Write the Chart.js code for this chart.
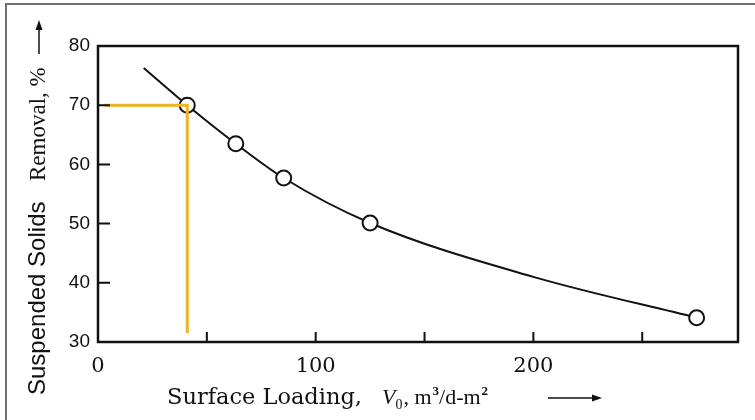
<!DOCTYPE html>
<html>
<head>
<meta charset="utf-8">
<script src="https://cdn.jsdelivr.net/npm/chart.js@4.4.1/dist/chart.umd.min.js"></script>
<style>
  html, body { margin: 0; padding: 0; background: #fff; }
  #wrap { width: 755px; height: 420px; position: relative; }
</style>
</head>
<body>
<div id="wrap"><canvas id="removalChart" width="755" height="420"></canvas></div>
<script>
// values
const curveLoading = [21, 41, 63.3, 85.3, 125, 200, 275];
const curveRemoval = [76.3, 70, 63.5, 57.7, 50.1, 41.0, 34.1];
const pointLoading = [41, 63.3, 85.3, 125, 275];
const pointRemoval = [70, 63.5, 57.7, 50.1, 34.1];
// orange read-off guide (design loading -> 70 %)
const guideLoading = [3, 41, 41];
const guideRemoval = [70, 70, 31.5];

const xLabels = [0, 100, 200];
const xTickMarks = [50, 100, 150, 200, 250];
const yTickMarks = [40, 50, 60, 70];

const toXY = (xs, ys) => xs.map((x, i) => ({ x: x, y: ys[i] }));

// simple arrow: line from (x1,y1) to (x2,y2) with a filled head at the end
function arrow(ctx, x1, y1, x2, y2) {
    const ang = Math.atan2(y2 - y1, x2 - x1);
    ctx.beginPath();
    ctx.moveTo(x1, y1);
    ctx.lineTo(x2 - 6 * Math.cos(ang), y2 - 6 * Math.sin(ang));
    ctx.stroke();
    ctx.beginPath();
    ctx.moveTo(x2, y2);
    ctx.lineTo(x2 - 10 * Math.cos(ang) + 3.5 * Math.sin(ang), y2 - 10 * Math.sin(ang) - 3.5 * Math.cos(ang));
    ctx.lineTo(x2 - 10 * Math.cos(ang) - 3.5 * Math.sin(ang), y2 - 10 * Math.sin(ang) + 3.5 * Math.cos(ang));
    ctx.closePath();
    ctx.fill();
}

// frame, plot box, inner tick marks and the two axis titles
const paperPlugin = {
    id: 'paper',
    beforeDraw(chart) {
        const ctx = chart.ctx;
        ctx.save();
        ctx.fillStyle = '#fff';
        ctx.fillRect(0, 0, chart.width, chart.height);
        ctx.strokeStyle = '#6e6e6e';
        ctx.lineWidth = 2;
        ctx.beginPath();
        ctx.moveTo(6, chart.height);
        ctx.lineTo(6, 4);
        ctx.lineTo(chart.width, 4);
        ctx.stroke();
        ctx.restore();
    },
    afterDatasetsDraw(chart) {
        const ctx = chart.ctx;
        const a = chart.chartArea;
        const xs = chart.scales.x, ys = chart.scales.y;
        ctx.save();
        ctx.strokeStyle = '#111';
        ctx.lineWidth = 2.5;
        ctx.strokeRect(a.left, a.top, a.right - a.left, a.bottom - a.top);
        ctx.lineWidth = 2;
        ctx.beginPath();
        yTickMarks.forEach(v => {
            const y = ys.getPixelForValue(v);
            ctx.moveTo(a.left, y);
            ctx.lineTo(a.left + 12, y);
        });
        xTickMarks.forEach(v => {
            const x = xs.getPixelForValue(v);
            ctx.moveTo(x, a.bottom);
            ctx.lineTo(x, a.bottom - 10);
        });
        ctx.stroke();

        // x title
        ctx.fillStyle = '#111';
        ctx.textBaseline = 'alphabetic';
        ctx.textAlign = 'left';
        let x = 167;
        const base = 404;
        ctx.font = '22.5px "DejaVu Serif"';
        ctx.fillText('Surface Loading,', x, base);
        x = 382;
        ctx.font = 'italic 22px "Liberation Serif"';
        ctx.fillText('V', x, base);
        x += ctx.measureText('V').width;
        ctx.font = '14px "Liberation Serif"';
        ctx.fillText('0', x, base + 5);
        x += ctx.measureText('0').width + 1;
        ctx.font = '22px "Liberation Serif"';
        ctx.fillText(', m', x, base);
        x += ctx.measureText(', m').width + 1;
        ctx.font = 'bold 13px "Liberation Serif"';
        ctx.fillText('3', x, base - 9);
        x += ctx.measureText('3').width;
        ctx.font = '22px "Liberation Serif"';
        ctx.fillText('/d-m', x, base);
        x += ctx.measureText('/d-m').width + 1;
        ctx.font = 'bold 13px "Liberation Serif"';
        ctx.fillText('2', x, base - 9);
        ctx.lineWidth = 1.5;
        arrow(ctx, 548, base - 6, 602, base - 6);
        arrow(ctx, 39, 54, 39, 20);

        // y title, reading bottom to top
        ctx.translate(45, 395);
        ctx.rotate(-Math.PI / 2);
        ctx.font = '24px "Liberation Sans"';
        ctx.fillText('Suspended Solids', 0, 0);
        ctx.font = '23px "Liberation Serif"';
        ctx.fillText('Removal, %', 214, 0);
        ctx.restore();
    }
};

document.addEventListener('DOMContentLoaded', function() {
    const ctx = document.getElementById('removalChart').getContext('2d');
    new Chart(ctx, {
        type: 'line',
        data: {
            datasets: [{
                label: 'Removal curve',
                data: toXY(curveLoading, curveRemoval),
                borderColor: '#111',
                borderWidth: 2,
                pointRadius: 0,
                cubicInterpolationMode: 'monotone',
                order: 3
            }, {
                label: 'Guide',
                data: toXY(guideLoading, guideRemoval),
                borderColor: '#f0b323',
                borderWidth: 3,
                pointRadius: 0,
                tension: 0,
                order: 1
            }, {
                label: 'Observed',
                data: toXY(pointLoading, pointRemoval),
                showLine: false,
                pointRadius: 7.5,
                pointBorderWidth: 2,
                pointBackgroundColor: '#fff',
                pointBorderColor: '#111',
                order: 2
            }]
        },
        options: {
            responsive: false,
            animation: false,
            layout: { padding: { left: 0, top: 46, right: 17, bottom: 0 } },
            plugins: {
                legend: { display: false },
                tooltip: { enabled: false }
            },
            scales: {
                x: {
                    type: 'linear',
                    min: 0,
                    max: 294,
                    grid: { display: false, drawTicks: false },
                    border: { display: false },
                    afterBuildTicks: scale => { scale.ticks = xLabels.map(v => ({ value: v })); },
                    afterFit: scale => { scale.height = 78; },
                    ticks: {
                        padding: 12,
                        maxRotation: 0,
                        color: '#111',
                        font: { family: 'DejaVu Serif', size: 21 }
                    }
                },
                y: {
                    min: 30,
                    max: 80,
                    grid: { display: false, drawTicks: false },
                    border: { display: false },
                    afterFit: scale => { scale.width = 98; },
                    ticks: {
                        stepSize: 10,
                        padding: 8,
                        color: '#111',
                        font: { family: 'Liberation Sans', size: 19 }
                    }
                }
            }
        },
        plugins: [paperPlugin]
    });
});
</script>
</body>
</html>
